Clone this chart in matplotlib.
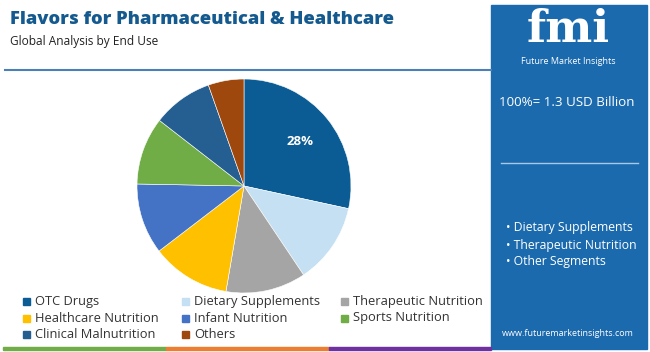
import matplotlib
matplotlib.use('Agg')
from matplotlib import pyplot as plt
from matplotlib.patches import Rectangle
import numpy as np

plt.rcParams['font.family'] = ['Open Sans', 'DejaVu Sans']

segments = ['OTC Drugs', 'Dietary Supplements', 'Therapeutic Nutrition',
            'Healthcare Nutrition', 'Infant Nutrition', 'Sports Nutrition',
            'Clinical Malnutrition', 'Others']
shares = [28.4, 12.2, 12.1, 11.9, 10.7, 10.2, 9.1, 5.4]
colors = ['#0b5c94', '#c5e0f2', '#a5a5a5', '#ffc000',
          '#4472c4', '#70ad47', '#255e91', '#9e480e']
shown_labels = ['28%', '', '', '', '', '', '', '']
panel_items = ['Dietary Supplements', 'Therapeutic Nutrition', 'Other Segments']
total_text = '100%= 1.3 USD Billion'

W, H = 650, 352
fig = plt.figure(figsize=(W / 100, H / 100), dpi=100)
fig.patch.set_facecolor('white')

def fx(x):
    return x / W

def fy(y):
    return 1 - y / H

# header
fig.text(fx(10), fy(19), 'Flavors for Pharmaceutical & Healthcare', fontsize=13.2,
         fontweight='heavy', color='#155a8e', va='center', ha='left')
fig.text(fx(10), fy(41), 'Global Analysis by End Use', fontsize=8.6,
         color='#222222', va='center', ha='left')
fig.add_artist(plt.Line2D([fx(5), fx(491)], [fy(70), fy(70)], color='#4a7fb8', lw=1.5))

# right panel
fig.add_artist(Rectangle((fx(491), fy(349)), fx(647) - fx(491), fy(5) - fy(349),
                         transform=fig.transFigure, color='#1b6aae', zorder=0))
fig.text(fx(568), fy(30), 'fmi', fontsize=32, fontweight='bold', family='DejaVu Serif',
         color='white', ha='center', va='center')
fig.text(fx(568), fy(62), 'Future Market Insights', fontsize=6.5, color='white',
         ha='center', va='center')
fig.text(fx(567), fy(102), total_text, fontsize=9.6, color='white', ha='center', va='center')
fig.add_artist(plt.Line2D([fx(501), fx(638)], [fy(163), fy(163)], color='#a9c8e6', lw=1))
for i, item in enumerate(panel_items):
    fig.text(fx(506), fy(228 + i * 17), '\u2022 ' + item, fontsize=8.8, color='white',
             ha='left', va='center')
fig.text(fx(568), fy(334), 'www.futuremarketinsights.com', fontsize=6.5, color='white',
         ha='center', va='center')

# bottom strip
for x0, x1, c in [(3, 166, '#70ad47'), (166, 329, '#ed7d31'), (329, 491, '#7030a0')]:
    fig.add_artist(Rectangle((fx(x0), fy(350)), fx(x1) - fx(x0), 3 / H,
                             transform=fig.transFigure, color=c))

# pie
cx, cy, r = 244, 186, 107
ax = fig.add_axes([fx(cx - r), fy(cy + r), 2 * r / W, 2 * r / H])
wedges, _ = ax.pie(shares, colors=colors, startangle=90, counterclock=False,
                   wedgeprops=dict(edgecolor='white', linewidth=0.4))
for w, lab in zip(wedges, shown_labels):
    if lab:
        ang = np.deg2rad((w.theta1 + w.theta2) / 2)
        ax.text(0.67 * np.cos(ang), 0.67 * np.sin(ang), lab, color='white',
                fontsize=9.5, fontweight='bold', ha='center', va='center')
ax.set_xlim(-1, 1)
ax.set_ylim(-1, 1)
ax.set_aspect('equal')
ax.axis('off')

# legend
col_x = [23, 182, 341]
row_y = [301, 318, 334]
for i, (name, c) in enumerate(zip(segments, colors)):
    x = col_x[i % 3]
    y = row_y[i // 3]
    fig.add_artist(Rectangle((fx(x), fy(y + 3.5)), 7 / W, 7 / H,
                             transform=fig.transFigure, color=c))
    fig.text(fx(x + 12), fy(y), name, fontsize=9.3, color='#333333',
             ha='left', va='center')

fig.savefig('out.png', dpi=100)
